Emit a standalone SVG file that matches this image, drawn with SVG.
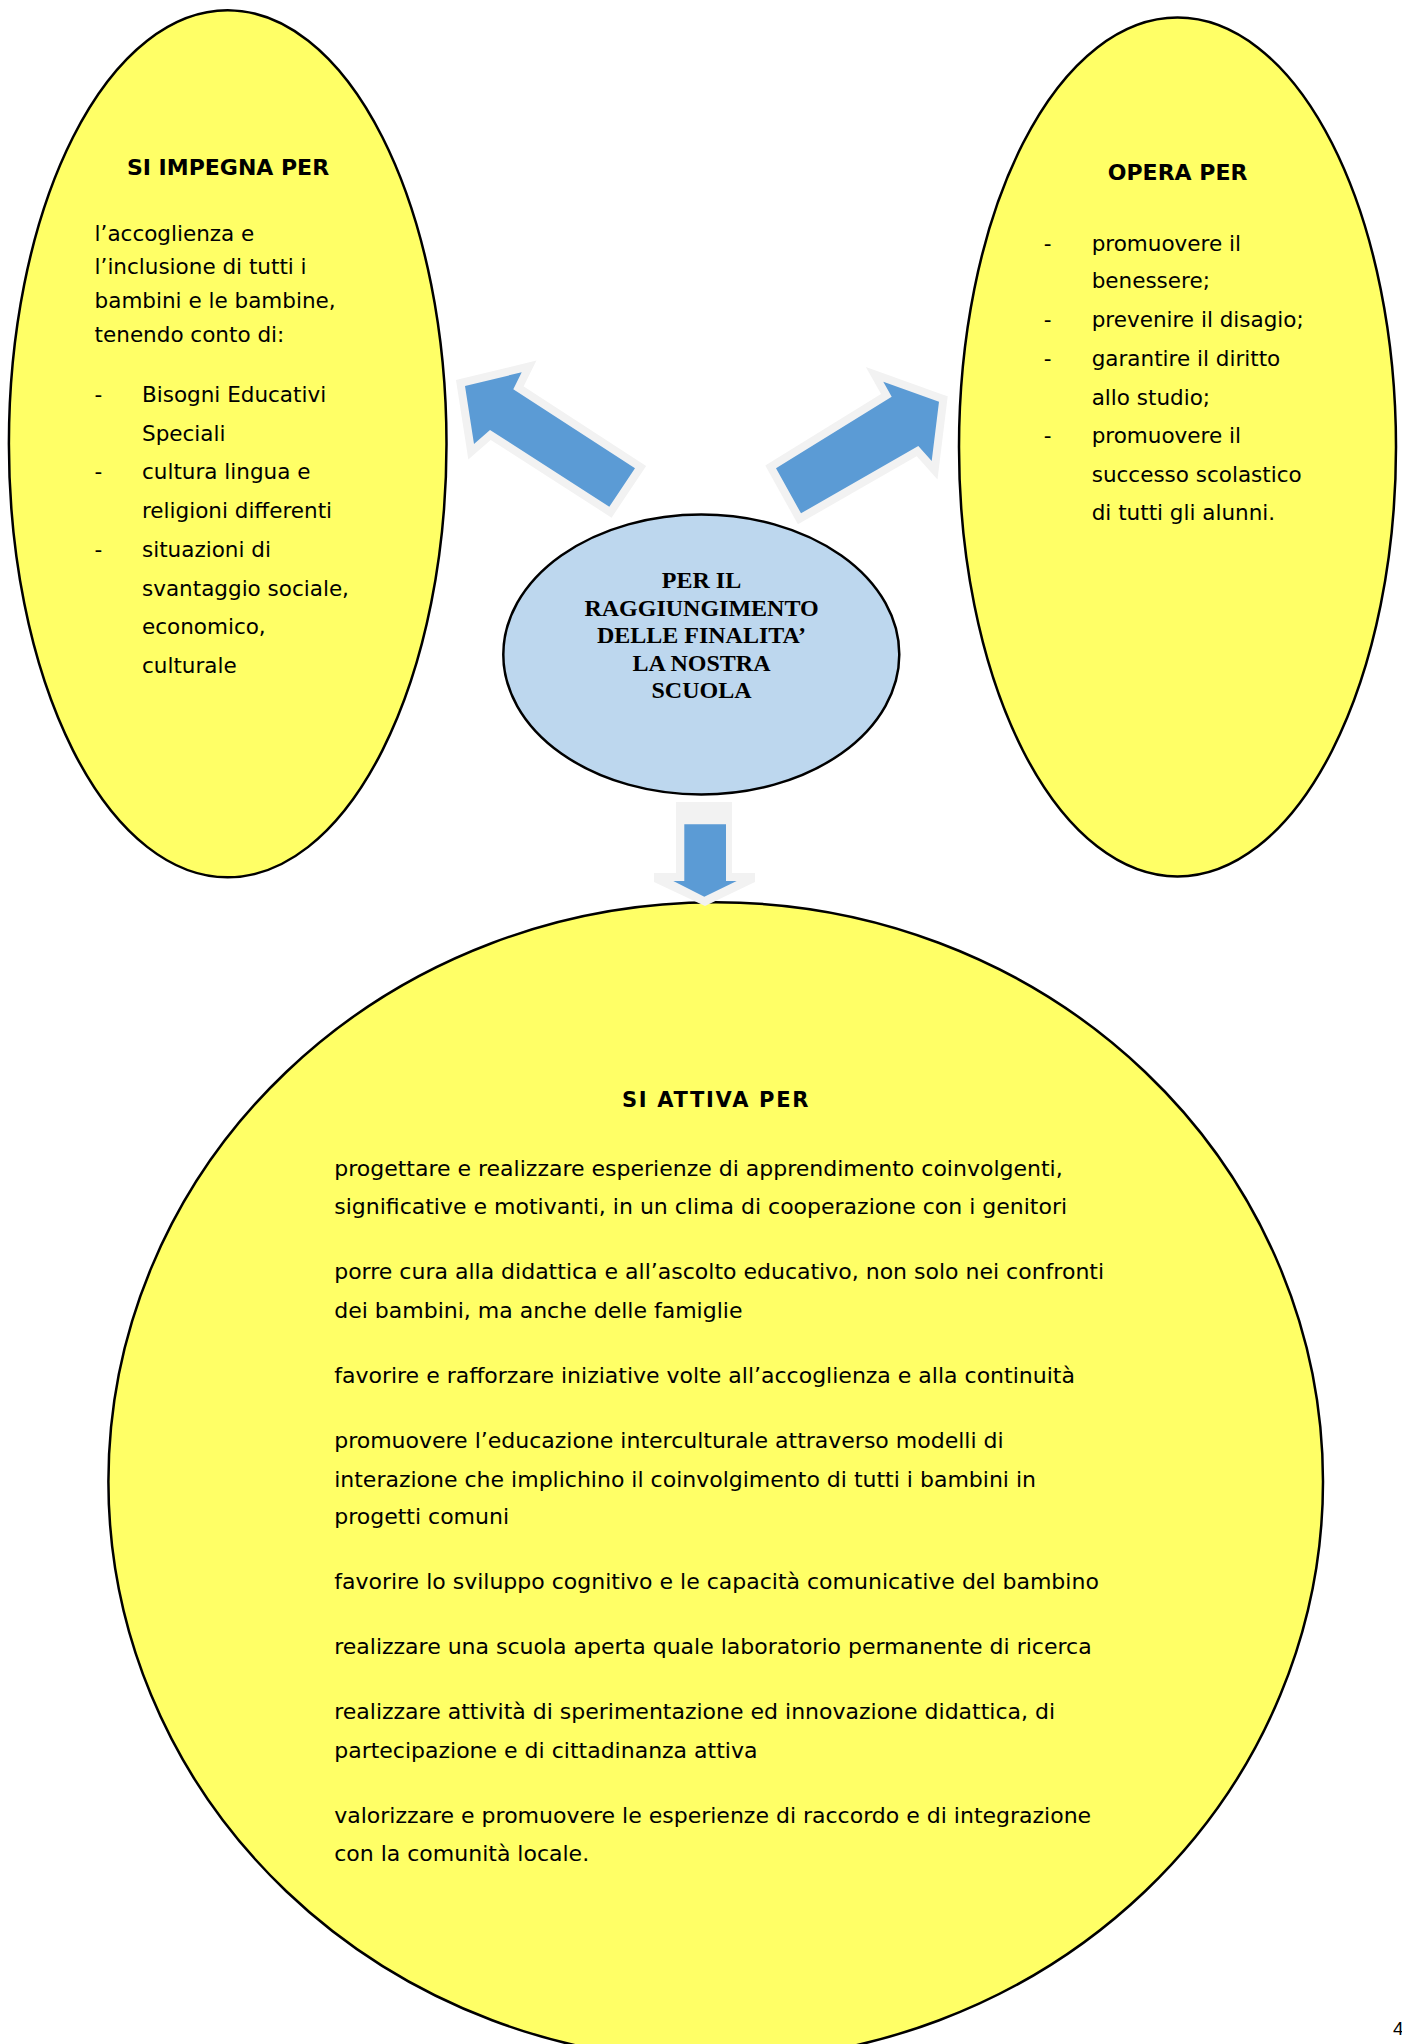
<svg xmlns="http://www.w3.org/2000/svg" width="1402" height="2044" viewBox="0 0 1402 2044">
<style>
.yel{fill:#FFFF66;stroke:#000;stroke-width:2.5}
.blu{fill:#BDD7EE;stroke:#000;stroke-width:2.5}
.arr{fill:#5B9BD5;stroke:#F2F2F2;stroke-width:16;stroke-linejoin:miter;paint-order:stroke}
.hd{font-family:"DejaVu Sans",sans-serif;font-weight:bold;font-size:22px;fill:#000;text-anchor:middle}
.tx{font-family:"DejaVu Sans",sans-serif;font-size:21.5px;fill:#000}
.bt{font-family:"DejaVu Sans",sans-serif;font-size:22px;fill:#000}
.ct{font-family:"Liberation Serif",serif;font-weight:bold;font-size:24px;fill:#000;text-anchor:middle}
</style>
<rect width="1402" height="2044" fill="#fff"/>

<g id="node-impegna">
<ellipse class="yel" cx="227.7" cy="443.8" rx="218.8" ry="433.5"/>
<text class="hd" x="228" y="175">SI IMPEGNA PER</text>
<text class="tx" x="94.6" y="241">l’accoglienza e</text>
<text class="tx" x="94.6" y="274.4">l’inclusione di tutti i</text>
<text class="tx" x="94.6" y="308.3">bambini e le bambine,</text>
<text class="tx" x="94.6" y="341.6">tenendo conto di:</text>
<text class="tx" x="94.6" y="401.8">-</text>
<text class="tx" x="142" y="401.8">Bisogni Educativi</text>
<text class="tx" x="142" y="440.9">Speciali</text>
<text class="tx" x="94.6" y="479.3">-</text>
<text class="tx" x="142" y="479.3">cultura lingua e</text>
<text class="tx" x="142" y="518.4">religioni differenti</text>
<text class="tx" x="94.6" y="556.8">-</text>
<text class="tx" x="142" y="556.8">situazioni di</text>
<text class="tx" x="142" y="595.9">svantaggio sociale,</text>
<text class="tx" x="142" y="634.3">economico,</text>
<text class="tx" x="142" y="672.8">culturale</text>
</g>

<g id="node-opera">
<ellipse class="yel" cx="1177.5" cy="447" rx="218.5" ry="429.5"/>
<text class="hd" x="1177.6" y="179.7">OPERA PER</text>
<text class="tx" x="1043.8" y="250.9">-</text>
<text class="tx" x="1091.7" y="250.9">promuovere il</text>
<text class="tx" x="1091.7" y="288.2">benessere;</text>
<text class="tx" x="1043.8" y="327.2">-</text>
<text class="tx" x="1091.7" y="327.2">prevenire il disagio;</text>
<text class="tx" x="1043.8" y="365.7">-</text>
<text class="tx" x="1091.7" y="365.7">garantire il diritto</text>
<text class="tx" x="1091.7" y="404.7">allo studio;</text>
<text class="tx" x="1043.8" y="443.2">-</text>
<text class="tx" x="1091.7" y="443.2">promuovere il</text>
<text class="tx" x="1091.7" y="482.2">successo scolastico</text>
<text class="tx" x="1091.7" y="519.5">di tutti gli alunni.</text>
</g>

<g id="node-attiva">
<ellipse class="yel" cx="715.7" cy="1481.6" rx="607.3" ry="579.3"/>
<text class="hd" x="716" y="1106.5" style="font-size:21px;letter-spacing:1.7px">SI ATTIVA PER</text>
<text class="bt" x="334.2" y="1175.5">progettare e realizzare esperienze di apprendimento coinvolgenti,</text>
<text class="bt" x="334.2" y="1214.1">significative e motivanti, in un clima di cooperazione con i genitori</text>
<text class="bt" x="334.2" y="1279.4">porre cura alla didattica e all’ascolto educativo, non solo nei confronti</text>
<text class="bt" x="334.2" y="1318">dei bambini, ma anche delle famiglie</text>
<text class="bt" x="334.2" y="1382.6">favorire e rafforzare iniziative volte all’accoglienza e alla continuità</text>
<text class="bt" x="334.2" y="1447.9">promuovere l’educazione interculturale attraverso modelli di</text>
<text class="bt" x="334.2" y="1486.5">interazione che implichino il coinvolgimento di tutti i bambini in</text>
<text class="bt" x="334.2" y="1524.4">progetti comuni</text>
<text class="bt" x="334.2" y="1589">favorire lo sviluppo cognitivo e le capacità comunicative del bambino</text>
<text class="bt" x="334.2" y="1654.3">realizzare una scuola aperta quale laboratorio permanente di ricerca</text>
<text class="bt" x="334.2" y="1718.9">realizzare attività di sperimentazione ed innovazione didattica, di</text>
<text class="bt" x="334.2" y="1757.5">partecipazione e di cittadinanza attiva</text>
<text class="bt" x="334.2" y="1822.8">valorizzare e promuovere le esperienze di raccordo e di integrazione</text>
<text class="bt" x="334.2" y="1860.7">con la comunità locale.</text>
</g>

<g id="node-centro">
<ellipse class="blu" cx="701.3" cy="654.5" rx="198" ry="140"/>
<text class="ct" x="701.5" y="588">PER IL</text>
<text class="ct" x="701.5" y="615.5">RAGGIUNGIMENTO</text>
<text class="ct" x="701.5" y="643">DELLE FINALITA’</text>
<text class="ct" x="701.5" y="670.5">LA NOSTRA</text>
<text class="ct" x="701.5" y="698">SCUOLA</text>
</g>

<g id="connectors">
<polygon class="arr" points="465,386 521.7,372.3 513.3,389.3 635,468.3 609.3,506.7 490,430 474,444"/>
<polygon class="arr" points="939,401.7 883.3,381.7 891.7,396.7 776,468.3 801,513.3 918.3,446 931.7,461"/>
<polygon fill="#F2F2F2" points="676,802 732,802 732,873 755,873 755,882 705,906 654,882 654,873 676,873"/>
<polygon fill="#5B9BD5" points="684.3,824.3 726,824.3 726,881 736.7,881 704.3,896.7 673.3,881 684.3,881"/>
</g>

<text x="1393" y="2034.7" style="font-family:'Liberation Sans',sans-serif;font-size:19px;fill:#000">4</text>
</svg>
